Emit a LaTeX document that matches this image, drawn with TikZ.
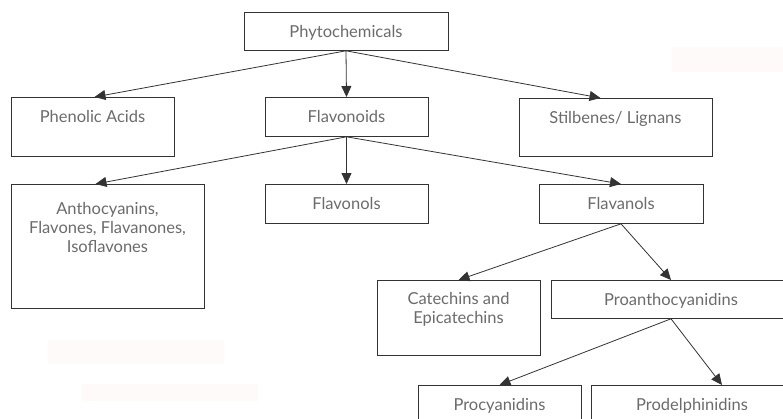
\documentclass[tikz,border=0pt]{standalone}
\usepackage{fontspec}
\setmainfont{Lato}
\usetikzlibrary{arrows.meta}
\tikzset{
  box/.style={draw=black!80, line width=0.8pt, anchor=north, align=center,
    text=black!58, font=\fontsize{16.5}{19}\selectfont,
    inner xsep=0pt, inner ysep=13pt, text height=12pt},
  link/.style={draw=black!80, line width=0.8pt, -{Triangle[length=11pt,width=10pt]}},
}
\begin{document}
\begin{tikzpicture}[x=1pt,y=-1pt]
\useasboundingbox (0,0) rectangle (783,418);
\clip (0,0) rectangle (783,418);
% faint patches
\fill[red!2] (48,340) rectangle (224,364);
\fill[red!2] (82,384) rectangle (258,401);
\fill[red!2] (672,47) rectangle (783,72);
% boxes
\node[box, minimum width=204pt, text depth=-1pt] (pc) at (346,12) {Phytochemicals};
\node[box, minimum width=163pt, text depth=21pt] (pa) at (92.5,97) {Phenolic Acids};
\node[box, minimum width=163pt, text depth=1pt] (fv) at (346.5,97) {Flavonoids};
\node[box, minimum width=193pt, text depth=20pt] (sl) at (615.5,98) {Stilbenes/ Lignans};
\node[box, minimum width=193pt, inner ysep=18pt, text height=50pt, text depth=38pt] (an) at (107.5,184)
  {Anthocyanins,\\Flavones, Flavanones,\\Isoflavones};
\node[box, minimum width=163pt, text depth=1pt] (fo) at (346.5,184) {Flavonols};
\node[box, minimum width=164pt, text depth=1pt] (fa) at (621,184) {Flavanols};
\node[box, minimum width=163pt, inner ysep=12pt, text height=31pt, text depth=20pt] (ce) at (458.5,280)
  {Catechins and\\Epicatechins};
\node[box, minimum width=240pt, text depth=0pt] (pr) at (671,280) {Proanthocyanidins};
\node[box, minimum width=163pt, text depth=1pt] (pcy) at (499.5,385) {Procyanidins};
\node[box, minimum width=202pt, text depth=1pt] (pd) at (692,385) {Prodelphinidins};
% arrows
\draw[link] (pc.south) -- ([xshift=2pt]pa.north);
\draw[link] (pc.south) -- (fv.north);
\draw[link] (pc.south) -- ([xshift=-15pt]sl.north);
\draw[link] (fv.south) -- ([xshift=-12pt]an.north);
\draw[link] (fv.south) -- (fo.north);
\draw[link] (fv.south) -- (fa.north);
\draw[link] (fa.south) -- (ce.north);
\draw[link] (fa.south) -- (pr.north);
\draw[link] (pr.south) -- (pcy.north);
\draw[link] (pr.south) -- ([xshift=30pt]pd.north);
\end{tikzpicture}
\end{document}
